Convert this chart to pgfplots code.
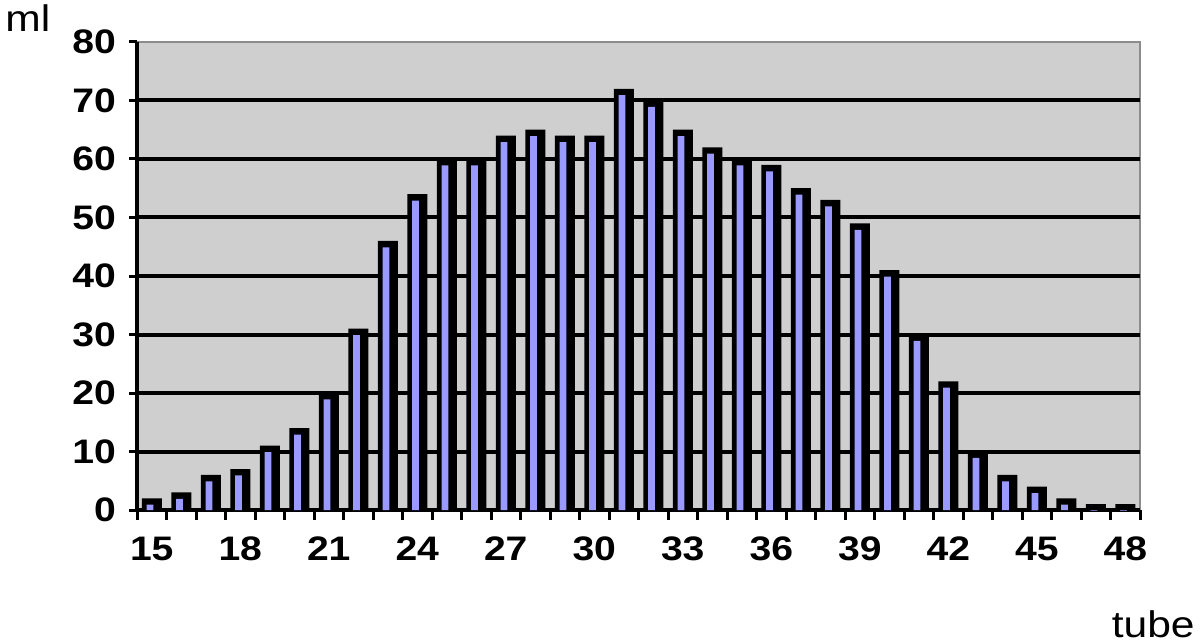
\documentclass[border=0pt]{standalone}
\usepackage{fontspec}
\setmainfont{Liberation Sans}[FakeStretch=1.15]
\usepackage{pgfplots}
\usepackage{pgfplotstable}
\pgfplotsset{compat=1.18}
\definecolor{wall}{HTML}{CFCFCF}
\definecolor{barblue}{HTML}{9999FF}
\pgfplotstableread{
x v
15 2
16 3
17 6
18 7
19 11
20 14
21 20
22 31
23 46
24 54
25 60
26 60
27 64
28 65
29 64
30 64
31 72
32 70
33 65
34 62
35 60
36 59
37 55
38 53
39 49
40 41
41 30
42 22
43 10
44 6
45 4
46 2
47 1
48 1
}\datatable
\begin{document}
\begin{tikzpicture}
\begin{axis}[
  scale only axis, width=501.5bp, height=234bp,
  xmin=14.5, xmax=48.5, ymin=0, ymax=80,
  axis x line*=bottom, axis y line*=left,
  axis line style={line width=2bp, -},
  axis background/.style={fill=wall, draw=gray!90, line width=1.2bp},
  xtick={15,18,...,48},
  minor xtick={14.5,15.5,...,48.5},
  ytick={0,10,...,80},
  tick align=outside,
  major tick length=4bp,
  minor tick length=5bp,
  tick style={black, line width=1.5bp},
  every major x tick/.append style={draw=none},
  extra y ticks={10,20,...,70},
  extra y tick labels={},
  extra y tick style={ymajorgrids=true, major tick length=0pt},
  major grid style={black, line width=2bp},
  /pgf/number format/assume math mode=true,
  xticklabel style={font=\bfseries\fontsize{17bp}{19bp}\selectfont, yshift=-6bp},
  yticklabel style={font=\bfseries\fontsize{17bp}{19bp}\selectfont, xshift=-3bp},
  clip=true,
]
\addplot[ybar, bar width=10bp, bar shift=0pt, fill=black, draw=none] table[x=x, y=v] {\datatable};
\addplot[ybar, bar width=3.4bp, bar shift=-0.9bp, fill=barblue, draw=none] table[x=x, y expr=\thisrow{v}-1.1] {\datatable};
\coordinate (sw) at (rel axis cs:0,0);
\end{axis}
\node[anchor=base west, font=\fontsize{18.5bp}{20bp}\selectfont, inner sep=0pt] at ([shift={(-66bp,239bp)}]sw) {ml};
\node[anchor=base east, font=\fontsize{18.5bp}{20bp}\selectfont, inner sep=0pt] at ([shift={(529bp,-63.5bp)}]sw) {tube};
\pgfresetboundingbox
\path[use as bounding box] ([shift={(-68.5bp,-67bp)}]sw) rectangle ++(600bp,322bp);
\end{tikzpicture}
\end{document}
